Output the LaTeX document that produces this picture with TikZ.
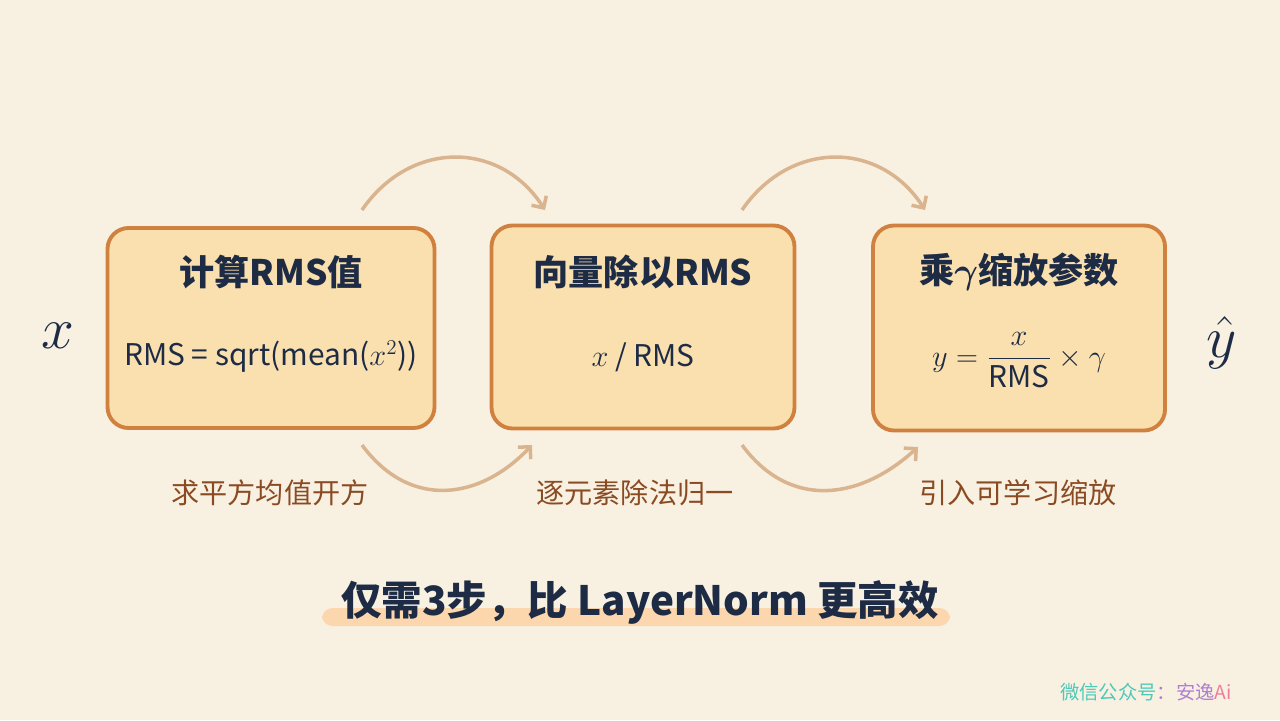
\documentclass[tikz,border=0pt]{standalone}
\usepackage{fontspec}
\usepackage{amsmath}
\setmainfont{Noto Sans CJK SC}
\setsansfont{Noto Sans CJK SC}
\usetikzlibrary{positioning, arrows.meta}
\definecolor{paper}{HTML}{F8F1E2}
\definecolor{boxfill}{HTML}{FAE0AE}
\definecolor{boxline}{HTML}{D0813F}
\definecolor{ink}{HTML}{1D2B45}
\definecolor{brown}{HTML}{8A4A22}
\definecolor{arc}{HTML}{D9B48E}
\tikzstyle{stage}=[draw=boxline, fill=boxfill, line width=2.2pt, rounded corners=12pt, inner sep=0pt]
\tikzstyle{ttl}=[text=ink, font=\fontsize{20}{24}\selectfont\bfseries]
\tikzstyle{frm}=[text=ink, font=\fontsize{17}{20}\selectfont]
\tikzstyle{note}=[text=brown, font=\fontsize{16}{19}\selectfont]
\tikzstyle{hop}=[draw=arc, line width=2pt, -{Straight Barb[length=5pt,width=10pt]}]
\tikzstyle{io}=[text=ink, font=\fontsize{24}{28}\selectfont, scale=1.35]
\tikzset{>=stealth}

\begin{document}
\begin{tikzpicture}[x=0.02cm, y=-0.02cm]
\fill[paper] (0,0) rectangle (1280,720);
\useasboundingbox (0,0) rectangle (1280,720);
%
\node[stage, minimum width=327*0.02cm, minimum height=200*0.02cm] (b1) at (271,328) {};
\node[stage, minimum width=303*0.02cm, minimum height=203*0.02cm] (b2) at (643,327) {};
\node[stage, minimum width=292*0.02cm, minimum height=205*0.02cm] (b3) at (1019,328) {};
%
\node[ttl] (t1) at (271,272) {计算RMS值};
\node[ttl] (t2) at (643,272) {向量除以RMS};
\node[ttl] (t3) at (1019,272) {乘$\boldsymbol{\gamma}$缩放参数};
\node[frm] (f1) at (271,357) {RMS = sqrt(mean($x^2$))};
\node[frm] (f2) at (643,357) {$x$ / RMS};
\node[frm] (f3) at (1019,360) {$y=\dfrac{x}{\text{RMS}}\times\gamma$};
%
\node[io, transform shape] (x) at (58,336) {$x$};
\node[io, transform shape] (yh) at (1222,343) {$\hat{y}$};
%
\node[note] (n1) at (270,493) {求平方均值开方};
\node[note] (n2) at (635,493) {逐元素除法归一};
\node[note] (n3) at (1018,493) {引入可学习缩放};
%
\coordinate (a1) at (362,210); \coordinate (a2) at (545,210);
\coordinate (a3) at (742,210); \coordinate (a4) at (925,210);
\coordinate (c1) at (362,445); \coordinate (c2) at (532,445);
\coordinate (c3) at (742,445); \coordinate (c4) at (918,447);
\draw[hop] (a1) .. controls (410,140) and (500,140) .. (a2);
\draw[hop] (a3) .. controls (790,140) and (880,140) .. (a4);
\draw[hop] (c1) .. controls (410,510) and (480,500) .. (c2);
\draw[hop] (c3) .. controls (790,510) and (860,500) .. (c4);
%
\fill[orange!45, opacity=.6, rounded corners=6pt] (322,608) rectangle (950,626);
\node[text=ink, font=\fontsize{23}{27}\selectfont\bfseries] (tag) at (640,602) {仅需3步，比 LayerNorm 更高效};
\node[font=\fontsize{11}{13}\selectfont, anchor=east] (wm) at (1238,692) {\textcolor[HTML]{4CC9B8}{微信公众号}\textcolor[HTML]{B07FD0}{：安逸}\textcolor[HTML]{F07C9E}{Ai}};
\end{tikzpicture}
\end{document}
